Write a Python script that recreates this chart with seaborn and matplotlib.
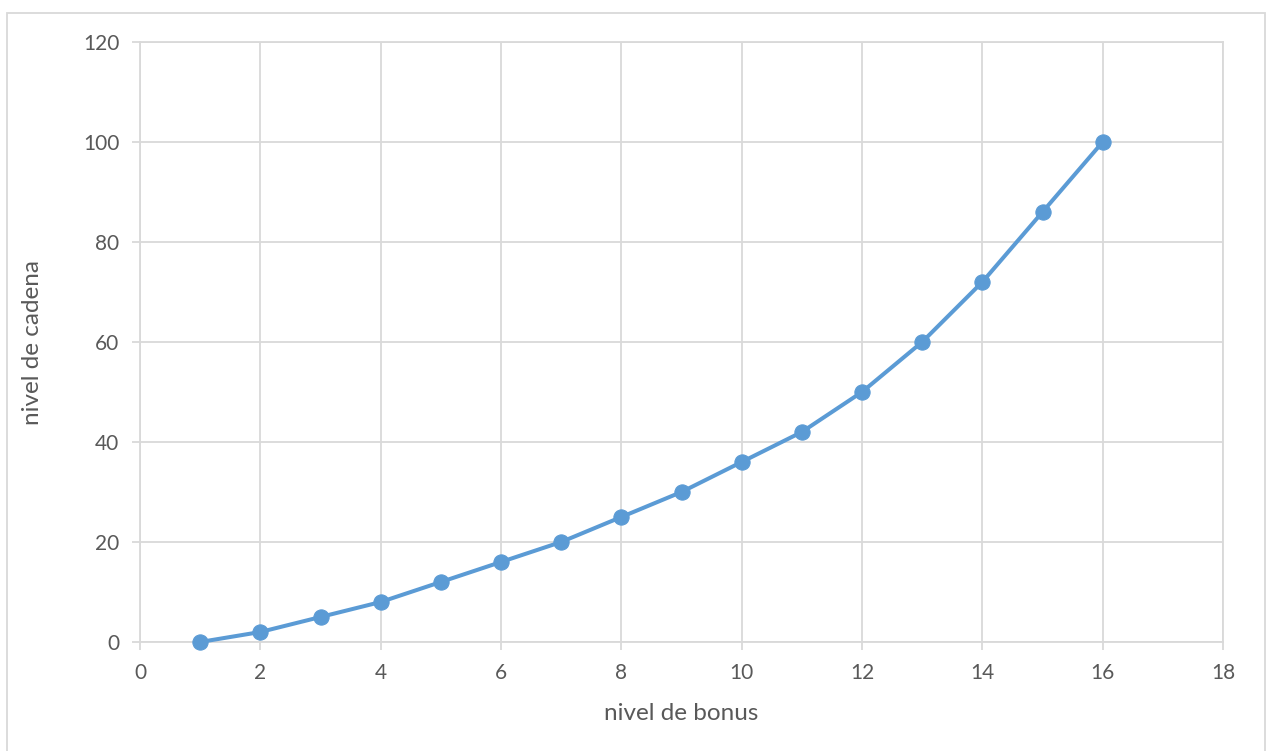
import matplotlib
matplotlib.use("Agg")
import matplotlib.pyplot as plt
import seaborn as sns
import pandas as pd
from matplotlib.patches import Rectangle

# data
nivel_bonus = [1, 2, 3, 4, 5, 6, 7, 8, 9, 10, 11, 12, 13, 14, 15, 16]
nivel_cadena = [0, 2, 5, 8, 12, 16, 20, 25, 30, 36, 42, 50, 60, 72, 86, 100]
x_ticks = [0, 2, 4, 6, 8, 10, 12, 14, 16, 18]
y_ticks = [0, 20, 40, 60, 80, 100, 120]

df = pd.DataFrame({"bonus": nivel_bonus, "cadena": nivel_cadena})

sns.set_theme(style="whitegrid")
plt.rcParams["font.family"] = ["Lato", "DejaVu Sans"]

text_col = "#595959"
grid_col = "#D9D9D9"
line_col = "#5B9BD5"

fig = plt.figure(figsize=(12.66, 7.51), dpi=100)
ax = fig.add_axes([140 / 1266, 1 - 642 / 751, (1223 - 140) / 1266, (642 - 42) / 751])

sns.lineplot(data=df, x="bonus", y="cadena", ax=ax, color=line_col,
             linewidth=2.9, marker="o", markersize=11,
             markeredgecolor=line_col, markerfacecolor=line_col,
             clip_on=False, zorder=5)

ax.set_xlim(0, 18)
ax.set_ylim(0, 120)
ax.set_xticks(x_ticks)
ax.set_yticks(y_ticks)
ax.grid(True, color=grid_col, linewidth=1.3)
for sp in ax.spines.values():
    sp.set_color(grid_col)
    sp.set_linewidth(1.3)
ax.tick_params(axis="both", which="major", direction="out", length=6,
               width=1.3, color=grid_col, labelcolor=text_col,
               labelsize=15, pad=9, left=True, bottom=True)

ax.set_xlabel("nivel de bonus", fontsize=17.5, color=text_col)
ax.set_ylabel("nivel de cadena", fontsize=17.5, color=text_col)
ax.xaxis.label.set_va("center")
ax.yaxis.label.set_va("center")
ax.xaxis.set_label_coords(0.5, (642 - 713) / 600)
ax.yaxis.set_label_coords((33 - 140) / 1083, 0.5)

# thin chart-area border like the spreadsheet frame
fig.patches.append(Rectangle((7 / 1266, -0.05), 1258 / 1266, 1.05 - 13 / 751,
                             transform=fig.transFigure, fill=False,
                             edgecolor=grid_col, linewidth=1.3))

fig.savefig("out.png", dpi=100)
